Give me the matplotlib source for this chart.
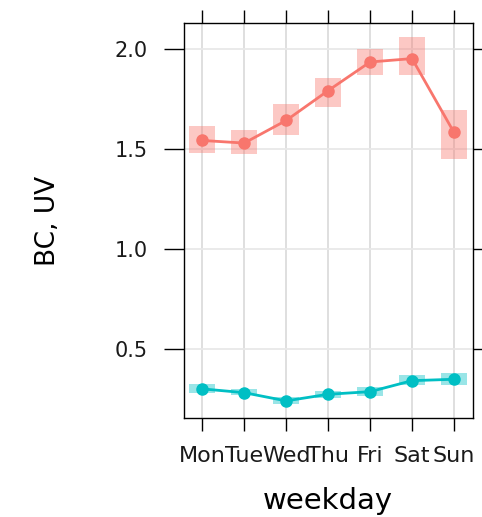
import numpy as np
import matplotlib
matplotlib.use('Agg')
import matplotlib.pyplot as plt

# Weekday means with confidence bands
days = ['Mon', 'Tue', 'Wed', 'Thu', 'Fri', 'Sat', 'Sun']

bc_mean = [1.543, 1.530, 1.643, 1.792, 1.935, 1.952, 1.583]
bc_lo = [1.480, 1.477, 1.572, 1.710, 1.870, 1.872, 1.452]
bc_hi = [1.613, 1.593, 1.727, 1.853, 2.000, 2.060, 1.695]

uv_mean = [0.302, 0.283, 0.242, 0.275, 0.288, 0.343, 0.350]
uv_lo = [0.283, 0.270, 0.225, 0.257, 0.265, 0.320, 0.320]
uv_hi = [0.325, 0.300, 0.260, 0.290, 0.310, 0.370, 0.380]

yticks = [0.5, 1.0, 1.5, 2.0]

red = '#F8766D'
cyan = '#00BFC4'

fig = plt.figure(figsize=(4.82, 5.17), dpi=100)
ax = fig.add_axes([0.3817, 0.1915, 0.599, 0.7635])

x = np.arange(1, len(days) + 1)

# grid first, like lattice panels
for xi in x:
    ax.axvline(xi, color='#dcdcdc', lw=1.3, zorder=0)
for yt in yticks:
    ax.axhline(yt, color='#e8e8e8', lw=1.3, zorder=0)

# shaded intervals
for mean, lo, hi, col in [(bc_mean, bc_lo, bc_hi, red),
                          (uv_mean, uv_lo, uv_hi, cyan)]:
    lo = np.array(lo)
    hi = np.array(hi)
    ax.bar(x, hi - lo, bottom=lo, width=0.62, color=col, alpha=0.4,
           linewidth=0, zorder=1)
    ax.plot(x, mean, color=col, lw=2.0, marker='o', markersize=8,
            zorder=2)

ax.set_xlim(0.564, 7.446)
ax.set_ylim(0.1565, 2.1285)
ax.set_xticks(x)
ax.set_xticklabels(days)
ax.set_yticks(yticks)
ax.set_yticklabels(['0.5', '1.0', '1.5', '2.0'])

ax.tick_params(axis='x', which='major', direction='out', length=9.4,
               width=1.0, pad=11, labelsize=16, labelcolor='#1a1a1a',
               top=True, bottom=True)
ax.tick_params(axis='y', which='major', direction='out', length=14.4,
               width=1.0, pad=12, labelsize=15, labelcolor='#1a1a1a',
               left=True, right=True)
for sp in ax.spines.values():
    sp.set_linewidth(1.0)
    sp.set_color('black')

ax.set_xlabel('weekday', fontsize=21, labelpad=15)
ax.set_ylabel('BC, UV', fontsize=19, labelpad=38)

fig.savefig('out.png', dpi=100)
